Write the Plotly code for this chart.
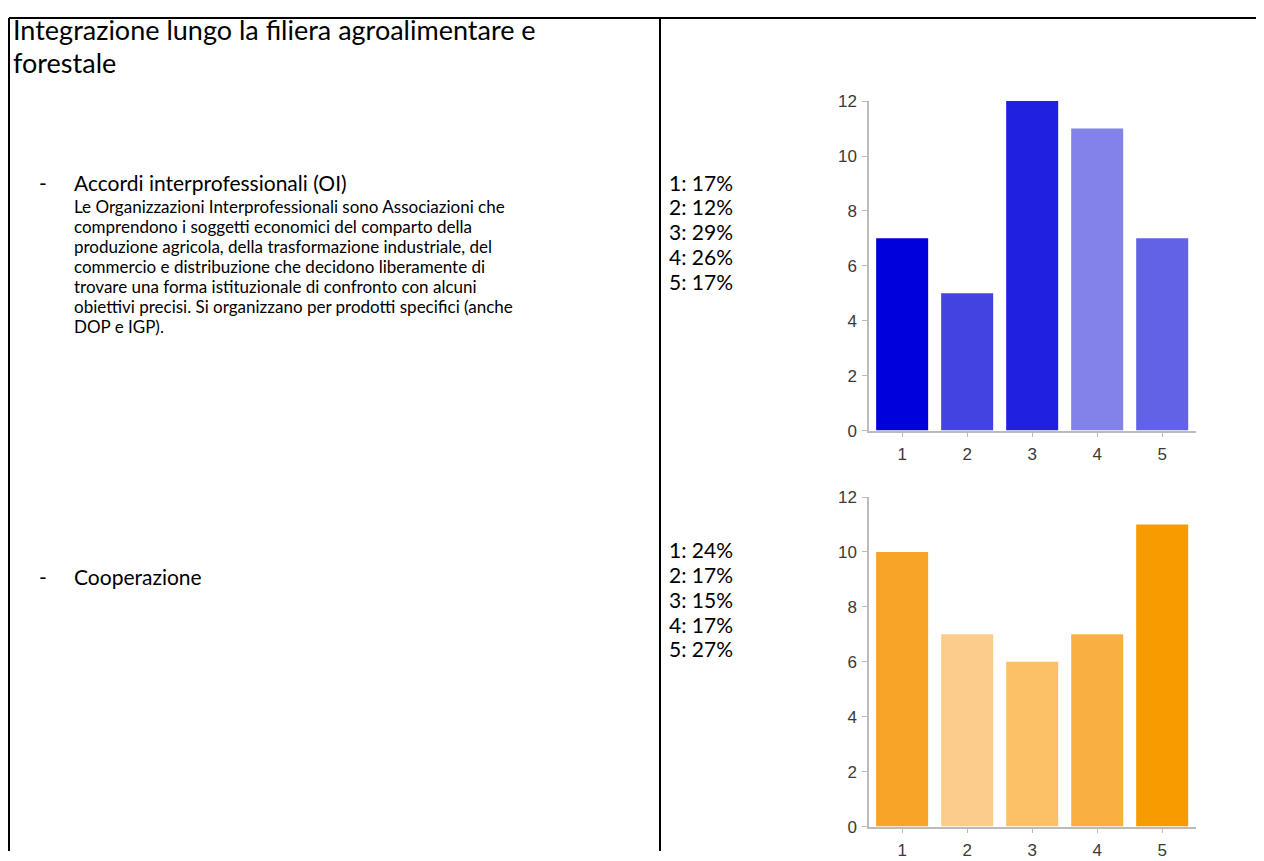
import plotly.graph_objects as go

W, H = 1264, 861
OFF = 8  # the page body has an 8px margin

# data
categories = ["1", "2", "3", "4", "5"]
oi_counts = [7, 5, 12, 11, 7]
oi_pct = [17, 12, 29, 26, 17]
coop_counts = [10, 7, 6, 7, 11]
coop_pct = [24, 17, 15, 17, 27]
y_ticks = [0, 2, 4, 6, 8, 10, 12]

oi_colors = ["#0000DC", "#4343E2", "#2020E0", "#8282EA", "#6262E6"]
coop_colors = ["#F7A428", "#FCCD8A", "#FCC066", "#FAB041", "#F89B00"]

title_lines = ["Integrazione lungo la filiera agroalimentare e", "forestale"]
oi_label = "Accordi interprofessionali (OI)"
oi_text = [
    "Le Organizzazioni Interprofessionali sono Associazioni che",
    "comprendono i soggetti economici del comparto della",
    "produzione agricola, della trasformazione industriale, del",
    "commercio e distribuzione che decidono liberamente di",
    "trovare una forma istituzionale di confronto con alcuni",
    "obiettivi precisi. Si organizzano per prodotti specifici (anche",
    "DOP e IGP).",
]
coop_label = "Cooperazione"

FONT = "Lato, Carlito, 'Open Sans', sans-serif"
AXFONT = "'Liberation Sans', Arial, sans-serif"

FW, FH = W - OFF, H - OFF


def px(x):
    return (x - OFF) / FW


def py(y):
    return 1 - (y - OFF) / FH


fig = go.Figure()
fig.add_trace(go.Bar(x=categories, y=oi_counts, marker_color=oi_colors,
                     marker_line_width=0, width=0.8, xaxis="x", yaxis="y",
                     showlegend=False))
fig.add_trace(go.Bar(x=categories, y=coop_counts, marker_color=coop_colors,
                     marker_line_width=0, width=0.8, xaxis="x2", yaxis="y2",
                     showlegend=False))

ax_common = dict(showgrid=False, zeroline=False, showline=True, linecolor="#BBBBBB",
                 linewidth=1.5, ticks="outside", ticklen=5, tickcolor="#BBBBBB",
                 ticklabelstandoff=2,
                 tickfont=dict(family=AXFONT, size=17, color="#3A3A3A"))

fig.update_layout(
    width=FW, height=FH, margin=dict(l=0, r=0, t=0, b=0),
    paper_bgcolor="white", plot_bgcolor="white", bargap=0.2,
    xaxis=dict(domain=[px(869), px(1196)], range=[-0.51, 4.52], anchor="y", **ax_common),
    yaxis=dict(domain=[py(431), py(94)], range=[0, 12], tickvals=y_ticks, anchor="x", **ax_common),
    xaxis2=dict(domain=[px(869), px(1196)], range=[-0.51, 4.52], anchor="y2", **ax_common),
    yaxis2=dict(domain=[py(836), py(499)], range=[0, 12], tickvals=y_ticks, anchor="x2", **ax_common),
)

# table borders
border = dict(type="line", xref="paper", yref="paper", line=dict(color="black", width=2))
fig.add_shape(x0=px(9), x1=1, y0=py(9), y1=py(9), **border)
fig.add_shape(x0=px(9), x1=px(9), y0=py(9), y1=0, **border)
fig.add_shape(x0=px(660), x1=px(660), y0=py(9), y1=0, **border)

ann = []


def text(x, y, s, size):
    ann.append(dict(x=px(x), y=py(y), xref="paper", yref="paper", text=s, showarrow=False,
                    xanchor="left", yanchor="middle", align="left",
                    font=dict(family=FONT, size=size, color="black")))


for i, line in enumerate(title_lines):
    text(11, 21 + i * 34, line, 27)

text(37, 177, "-", 21)
text(72, 177, oi_label, 21)
for i, line in enumerate(oi_text):
    text(72, 202 + i * 20.5, line, 17)

text(37, 580, "-", 21)
text(72, 580, coop_label, 21)

for i, (c, p) in enumerate(zip(categories, oi_pct)):
    text(667, 177 + i * 25.3, f"{c}: {p}%", 21)
for i, (c, p) in enumerate(zip(categories, coop_pct)):
    text(667, 553 + i * 25.3, f"{c}: {p}%", 21)

fig.update_layout(annotations=ann)
fig.write_html("out.html")
